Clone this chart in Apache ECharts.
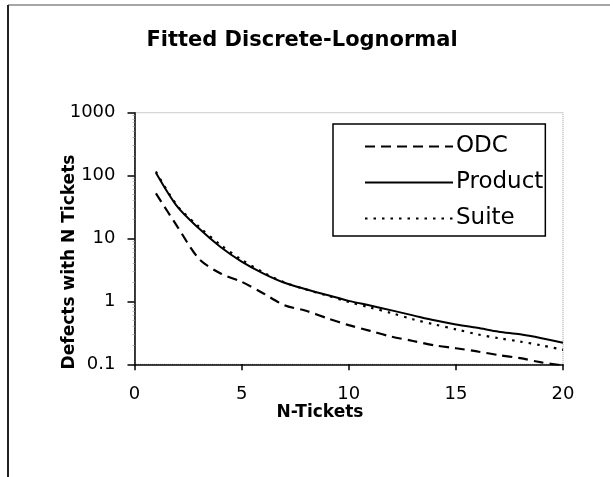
<!DOCTYPE html>
<html>
<head>
<meta charset="utf-8">
<script src="https://cdn.jsdelivr.net/npm/echarts@6/dist/echarts.min.js"></script>
<style>
html,body{margin:0;padding:0;background:#fff;}
#chart{width:610px;height:477px;}
</style>
</head>
<body>
<div id="chart"></div>
<script>
const nTickets = [1,2,3,4,5,6,7,8,9,10,11,12,13,14,15,16,17,18,19,20];
const odc     = [52,15.5,4.8,2.8,2.05,1.35,0.87,0.71,0.54,0.42,0.34,0.275,0.235,0.2,0.18,0.16,0.14,0.125,0.107,0.096];
const product = [111,32,14.5,7.4,4.3,2.8,1.98,1.56,1.26,1.02,0.86,0.72,0.6,0.5,0.43,0.38,0.33,0.3,0.26,0.22];
const suite   = [116,33,15.5,8,4.6,2.9,2.0,1.55,1.24,0.98,0.8,0.65,0.52,0.43,0.36,0.3,0.26,0.23,0.2,0.17];
const seriesNames = ['ODC','Product','Suite'];
const titleText = 'Fitted Discrete-Lognormal';
const xName = 'N-Tickets';
const yName = 'Defects with N Tickets';

const pair = arr => nTickets.map((x,i)=>[x,arr[i]]);
const chart = echarts.init(document.getElementById('chart'));
const FONT = 'DejaVu Sans';
const NOSYM = {color:'rgba(0,0,0,0)',borderWidth:0,opacity:0};
chart.setOption({
  backgroundColor:'#fff',
  animation:false,
  title:{text:titleText,left:297,top:25,textAlign:'center',
    textStyle:{fontFamily:FONT,fontWeight:'bold',fontSize:21,color:'#000'}},
  grid:{left:134.5,right:47,top:112.7,bottom:112.7,show:true,borderColor:'#999',borderWidth:1,borderType:'dotted',containLabel:false},
  xAxis:{type:'value',min:0,max:20,interval:5,
    axisLine:{lineStyle:{color:'#000',width:1.5}},
    axisTick:{show:true,length:6,lineStyle:{color:'#000',width:1.5}},
    axisLabel:{margin:21,fontFamily:FONT,fontSize:18,color:'#000'},
    splitLine:{show:false}},
  yAxis:{type:'log',logBase:10,min:0.1,max:1000,
    axisLine:{show:true,lineStyle:{color:'#000',width:1.5}},
    axisTick:{show:true,length:7,lineStyle:{color:'#000',width:1.5}},
    minorTick:{show:true,splitNumber:9,length:2,lineStyle:{color:'#bbb',width:1}},
    axisLabel:{margin:19,fontFamily:FONT,fontSize:18,color:'#000',
      formatter:v=>String(Math.round(v*10)/10)},
    splitLine:{show:false}},
  legend:{data:seriesNames,orient:'vertical',left:333,top:124,
    padding:[11,2,6,31],itemGap:13,itemWidth:88,itemHeight:14,
    borderColor:'#000',borderWidth:1.5,backgroundColor:'#fff',
    itemStyle:NOSYM,
    textStyle:{fontFamily:FONT,fontSize:23,color:'#000',padding:[0,0,0,-2]}},
  series:[
    {name:'ODC',type:'line',data:pair(odc),symbol:'none',smooth:0.3,
      lineStyle:{color:'#000',width:2.2,type:[10,6]},itemStyle:NOSYM},
    {name:'Product',type:'line',data:pair(product),symbol:'none',smooth:0.3,
      lineStyle:{color:'#000',width:2,type:'solid'},itemStyle:NOSYM},
    {name:'Suite',type:'line',data:pair(suite),symbol:'none',smooth:0.3,
      lineStyle:{color:'#000',width:2.2,type:[2.5,6]},itemStyle:NOSYM}
  ],
  graphic:[
    {type:'line',shape:{x1:8,y1:5,x2:610,y2:5},style:{stroke:'#888',lineWidth:1.5},silent:true},
    {type:'line',shape:{x1:8,y1:5,x2:8,y2:477},style:{stroke:'#222',lineWidth:2},silent:true},
    {type:'text',position:[320,413],style:{text:xName,fontFamily:FONT,fontWeight:'bold',fontSize:17,fill:'#000',textAlign:'center',textVerticalAlign:'middle'},silent:true},
    {type:'text',rotation:Math.PI/2,position:[70,262],style:{text:yName,fontFamily:FONT,fontWeight:'bold',fontSize:17,fill:'#000',textAlign:'center',textVerticalAlign:'middle'},silent:true}
  ]
});
</script>
</body>
</html>
